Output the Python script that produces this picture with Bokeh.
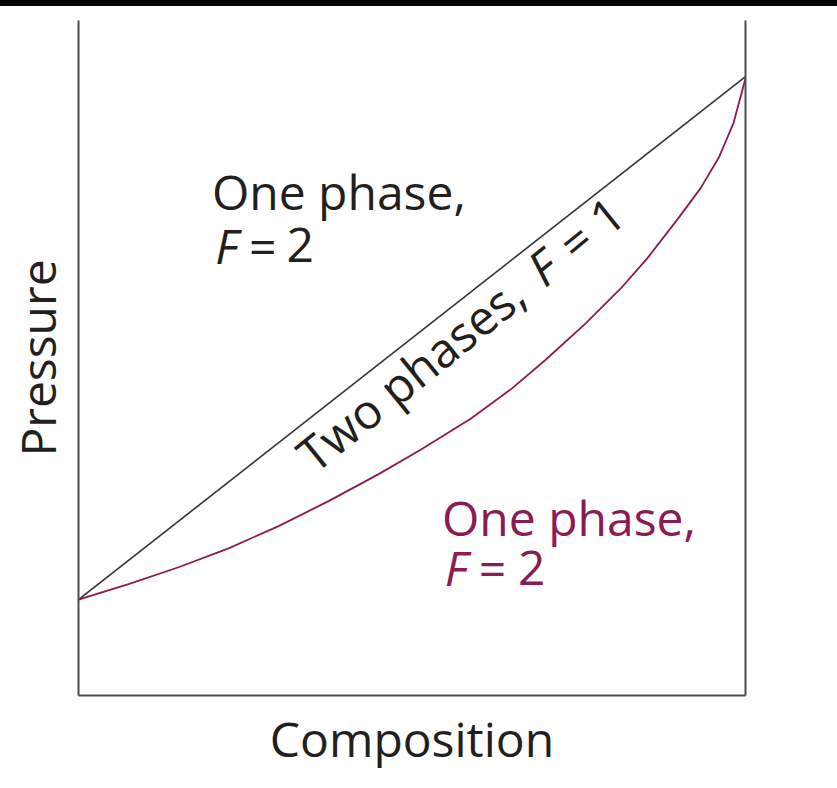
from bokeh.plotting import figure
from bokeh.models import Range1d, LinearAxis, FixedTicker, Label, Div
from bokeh.layouts import column
from bokeh.embed import file_html
from bokeh.resources import INLINE
import math

# Composition (mole fraction, 0 -> 1) and pressure (relative) of the phase boundaries
liquid_x = [0.0, 1.0]
liquid_p = [0.142, 0.917]

vapour_x = [0.0, 0.075, 0.150, 0.225, 0.300, 0.375, 0.450, 0.513, 0.588, 0.650,
            0.700, 0.760, 0.813, 0.853, 0.900, 0.933, 0.960, 0.982, 1.0]
vapour_p = [0.142, 0.165, 0.190, 0.218, 0.251, 0.288, 0.328, 0.364, 0.410, 0.455,
            0.497, 0.551, 0.603, 0.648, 0.708, 0.752, 0.797, 0.848, 0.914]

FONT = "Open Sans"
INK = "#231f20"
PURPLE = "#8b1a55"
AXIS = "#4d4d4d"
SIZE = "48px"

W, H = 837, 782
LEFT, RIGHT, TOP, BOTTOM = 78, 92, 14, 93
FW, FH = W - LEFT - RIGHT, H - TOP - BOTTOM

p = figure(width=W, height=H, output_backend="svg", toolbar_location=None,
           x_range=Range1d(0, 1), y_range=Range1d(0, 1),
           min_border_left=LEFT, min_border_right=RIGHT,
           min_border_top=TOP, min_border_bottom=BOTTOM)
p.background_fill_color = "white"
p.border_fill_color = "white"
p.outline_line_color = None
p.xgrid.visible = False
p.ygrid.visible = False

right_axis = LinearAxis()
p.add_layout(right_axis, "right")

for ax in (p.xaxis[0], p.yaxis[0], right_axis):
    ax.ticker = FixedTicker(ticks=[])
    ax.axis_line_color = AXIS
    ax.axis_line_width = 2
    ax.major_tick_line_color = None
    ax.minor_tick_line_color = None
    ax.major_label_text_font_size = "0px"
    ax.axis_label_text_font = FONT
    ax.axis_label_text_font_size = SIZE
    ax.axis_label_text_font_style = "normal"
    ax.axis_label_text_color = INK

p.xaxis[0].axis_label = "Composition"
p.xaxis[0].axis_label_standoff = 10
p.yaxis[0].axis_label = "Pressure"
p.yaxis[0].axis_label_standoff = 9

# Phase boundaries
p.line(liquid_x, liquid_p, line_color="#333333", line_width=1.6)
p.line(vapour_x, vapour_p, line_color=PURPLE, line_width=1.8)

# baseline correction for labels, in pixels along the text's "up" direction
LIFT = 21


def add_text(x, y, text, color, style="normal", angle=0.0):
    a = math.radians(angle)
    x += -math.sin(a) * LIFT / FW
    y += math.cos(a) * LIFT / FH
    p.add_layout(Label(x=x, y=y, text=text, text_font=FONT,
                       text_font_size=SIZE, text_font_style=style,
                       text_color=color, text_align="left",
                       text_baseline="alphabetic",
                       angle=angle, angle_units="deg"))


# Upper single-phase region
add_text(0.200, 0.7156, "One phase,", INK)
add_text(0.205, 0.636, "F", INK, style="italic")
add_text(0.2555, 0.636, "=", INK)
add_text(0.312, 0.636, "2", INK)

# Lower single-phase region
add_text(0.545, 0.2326, "One phase,", PURPLE)
add_text(0.549, 0.1585, "F", PURPLE, style="italic")
add_text(0.600, 0.1585, "=", PURPLE)
add_text(0.659, 0.1585, "2", PURPLE)

# Two-phase region, written along the boundary
ANG = 39.0
bx, by = 0.357, 0.324
ux, uy = math.cos(math.radians(ANG)) / FW, math.sin(math.radians(ANG)) / FH
add_text(bx, by, "Two phases,", INK, angle=ANG)
add_text(bx + 296 * ux, by + 296 * uy, "F", INK, style="italic", angle=ANG)
add_text(bx + 336 * ux, by + 336 * uy, "= 1", INK, angle=ANG)

bar = Div(width=837, height=6, margin=0,
          styles={"background-color": "black"})

layout = column(bar, p, spacing=0)

open("out.html", "w").write(file_html(layout, INLINE))
